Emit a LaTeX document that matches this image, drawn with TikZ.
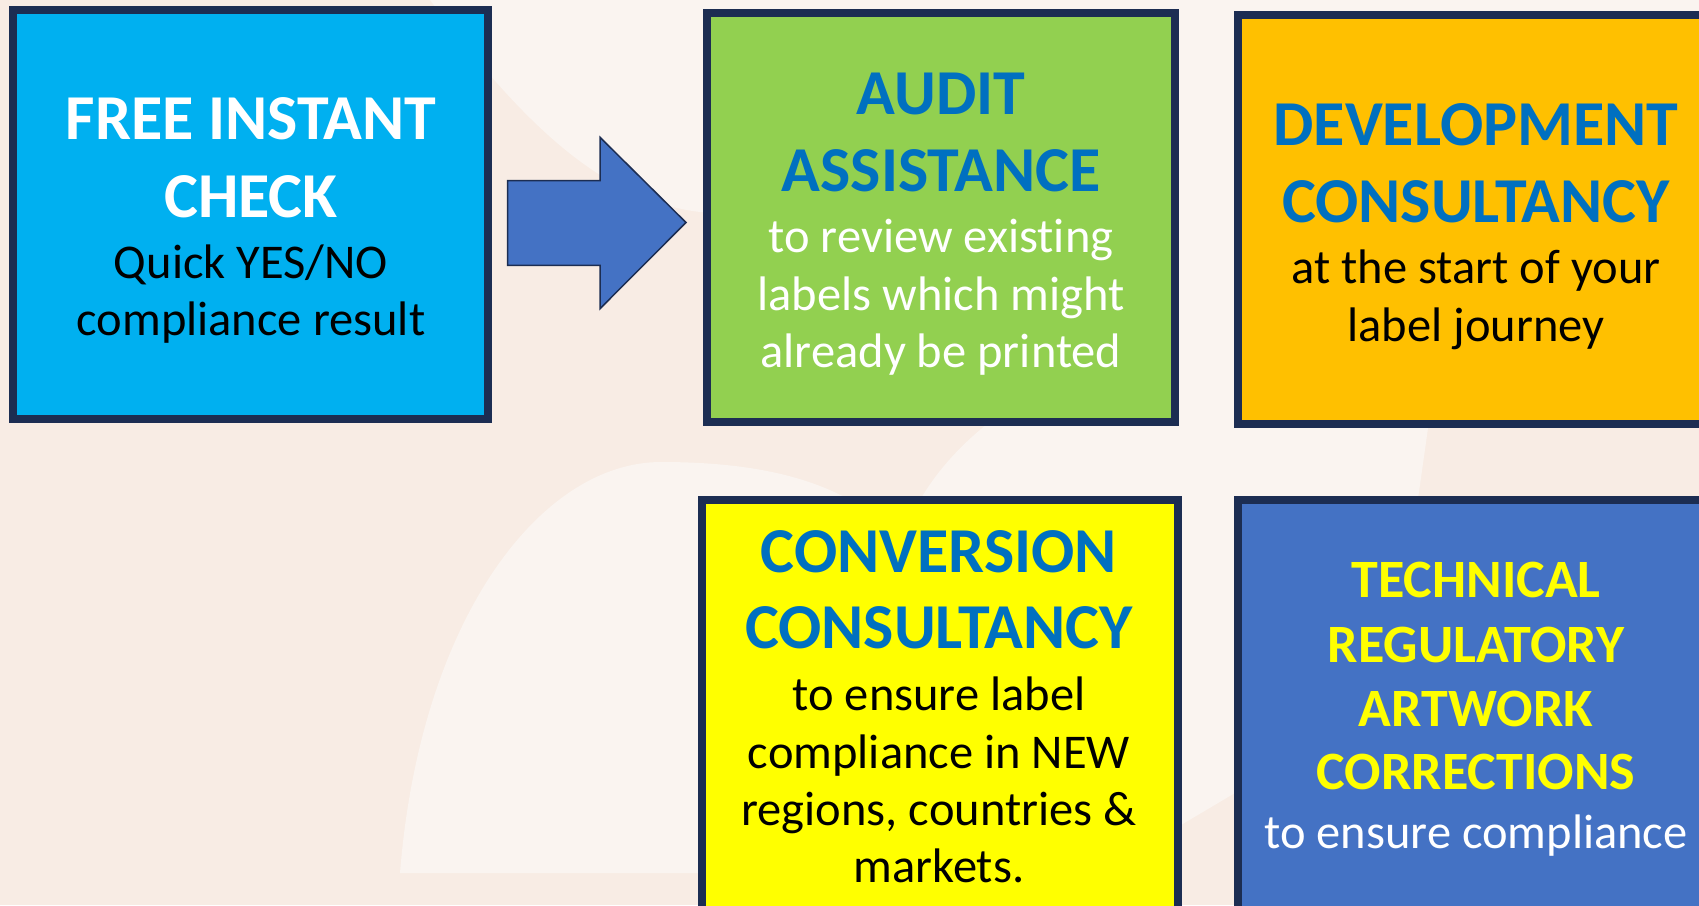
\documentclass[tikz,border=0pt]{standalone}
\usepackage{fontspec}
\setmainfont{Carlito}[Ligatures={NoCommon}]
\definecolor{bgpeach}{HTML}{F8ECE4}
\definecolor{bglight}{HTML}{FAF4F0}
\definecolor{navy}{HTML}{1C2D52}
\definecolor{cyanbox}{HTML}{00B0F0}
\definecolor{greenbox}{HTML}{92D050}
\definecolor{orangebox}{HTML}{FFC000}
\definecolor{yellowbox}{HTML}{FFFF00}
\definecolor{bluebox}{HTML}{4472C4}
\definecolor{headblue}{HTML}{0070C0}
\tikzset{
  box/.style={draw=navy, line width=8pt, rectangle, inner sep=0pt},
  hd/.style={anchor=base, inner sep=0pt, font=\fontsize{64}{77}\selectfont\bfseries},
  hdsmall/.style={anchor=base, inner sep=0pt, font=\fontsize{54}{65}\selectfont\bfseries},
  bd/.style={anchor=base, inner sep=0pt, font=\fontsize{48.5}{58}\selectfont},
  blockarrow/.style={fill=bluebox, draw=navy, line width=1.5pt, line join=miter}
}
\begin{document}
\begin{tikzpicture}[x=1pt, y=-1pt]
\useasboundingbox (0,0) rectangle (1699,905);
\clip (0,0) rectangle (1699,905);
% background
\fill[bgpeach] (0,0) rectangle (1699,905);
\fill[bglight] (430,0) .. controls (520,120) and (600,200) .. (700,212) -- (1699,212) -- (1699,0) -- cycle;
\fill[bglight] (1170,0) rectangle (1250,430);
\fill[bglight] (1020,400) .. controls (960,440) and (925,480) .. (900,540) -- (1190,760) -- (1240,740) -- (1415,520) -- (1432,400) -- cycle;
\fill[bglight] (400,873) .. controls (420,620) and (540,462) .. (661,462) .. controls (760,462) and (830,480) .. (880,520) -- (1240,745) -- (1240,790) -- (1100,873) -- cycle;
% boxes
\node[box, fill=cyanbox, minimum width=475pt, minimum height=409pt] (b1) at (250.5,214.5) {};
\node[box, fill=greenbox, minimum width=468pt, minimum height=409pt] (b2) at (941,217.5) {};
\node[box, fill=orangebox, minimum width=468pt, minimum height=408.5pt] (b3) at (1472,219.7) {};
\node[box, fill=yellowbox, minimum width=476pt, minimum height=440pt] (b4) at (940,720) {};
\node[box, fill=bluebox, minimum width=468pt, minimum height=440pt] (b5) at (1472,720) {};
% arrow
\coordinate (a0) at (507.7,180.6);
\draw[blockarrow] (a0) -- (600,180.6) -- (600,137.3) -- (686,222.5) -- (600,308.7) -- (600,265.4) -- (507.7,265.4) -- cycle;
% box 1 text
\node[hd, text=white] (t1a) at (251,139) {FREE INSTANT};
\node[hd, text=white] (t1b) at (251,217) {CHECK};
\node[bd, text=black] (t1c) at (251,278) {Quick YES/NO};
\node[bd, text=black] (t1d) at (251,335) {compliance result};
% box 2 text
\node[hd, text=headblue] (t2a) at (941,114) {AUDIT};
\node[hd, text=headblue] (t2b) at (941,191) {ASSISTANCE};
\node[bd, text=white] (t2c) at (941,252) {to review existing};
\node[bd, text=white] (t2d) at (941,310) {labels which might};
\node[bd, text=white] (t2e) at (941,367) {already be printed};
% box 3 text
\node[hd, text=headblue] (t3a) at (1476,145) {DEVELOPMENT};
\node[hd, text=headblue] (t3b) at (1476,222) {CONSULTANCY};
\node[bd, text=black] (t3c) at (1476,283) {at the start of your};
\node[bd, text=black] (t3d) at (1476,341) {label journey};
% box 4 text
\node[hd, text=headblue] (t4a) at (939,572) {CONVERSION};
\node[hd, text=headblue] (t4b) at (939,648) {CONSULTANCY};
\node[bd, text=black] (t4c) at (939,710) {to ensure label};
\node[bd, text=black] (t4d) at (939,768) {compliance in NEW};
\node[bd, text=black] (t4e) at (939,825) {regions, countries \&};
\node[bd, text=black] (t4f) at (939,882) {markets.};
% box 5 text
\node[hdsmall, text=yellowbox] (t5a) at (1476,597) {TECHNICAL};
\node[hdsmall, text=yellowbox] (t5b) at (1476,662) {REGULATORY};
\node[hdsmall, text=yellowbox] (t5c) at (1476,726) {ARTWORK};
\node[hdsmall, text=yellowbox] (t5d) at (1476,789) {CORRECTIONS};
\node[bd, text=white] (t5e) at (1476,848) {to ensure compliance};
\end{tikzpicture}
\end{document}
